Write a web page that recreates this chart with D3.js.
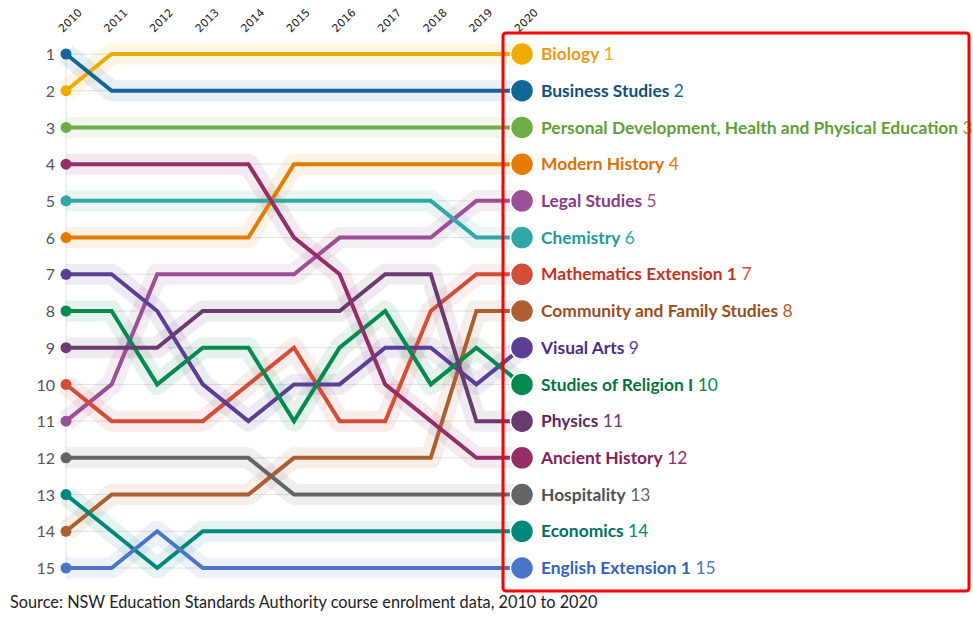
<!DOCTYPE html>
<html><head><meta charset="utf-8">
<script src="https://cdn.jsdelivr.net/npm/d3@7"></script>
<style>
body{margin:0;background:#fff;}
svg{display:block;font-family:"Source Sans Pro",Lato,"Noto Sans",sans-serif;}
</style></head>
<body><svg id="chart" width="973" height="618"></svg>
<script>
const years = [2010,2011,2012,2013,2014,2015,2016,2017,2018,2019,2020];
const subjects = ["Biology","Business Studies","Personal Development, Health and Physical Education","Modern History","Legal Studies","Chemistry","Mathematics Extension 1","Community and Family Studies","Visual Arts","Studies of Religion I","Physics","Ancient History","Hospitality","Economics","English Extension 1"];
const colors = ["#f0ab00","#13669a","#71ad46","#e37c00","#9b4f96","#33a6a6","#d24e3a","#ae5f2f","#5b3f95","#078a4f","#6a3b6f","#942e67","#656565","#00897b","#4a76c8"];
const textColors = ["#e89a10","#0f4f7d","#5fa038","#e06f00","#8a3a86","#229a9a","#c8321e","#9a4e1e","#4a2e84","#05743f","#5a2a5e","#852058","#505050","#00705f","#3462bd"];
const ranks = [
  [2,1,1,1,1,1,1,1,1,1,1],
  [1,2,2,2,2,2,2,2,2,2,2],
  [3,3,3,3,3,3,3,3,3,3,3],
  [6,6,6,6,6,4,4,4,4,4,4],
  [11,10,7,7,7,7,6,6,6,5,5],
  [5,5,5,5,5,5,5,5,5,6,6],
  [10,11,11,11,10,9,11,11,8,7,7],
  [14,13,13,13,13,12,12,12,12,8,8],
  [7,7,8,10,11,10,10,9,9,10,9],
  [8,8,10,9,9,11,9,8,10,9,10],
  [9,9,9,8,8,8,8,7,7,11,11],
  [4,4,4,4,4,6,7,10,11,12,12],
  [12,12,12,12,12,13,13,13,13,13,13],
  [13,14,15,14,14,14,14,14,14,14,14],
  [15,15,14,15,15,15,15,15,15,15,15]
];
const rankTicks = d3.range(1,16);
const sourceText = "Source: NSW Education Standards Authority course enrolment data, 2010 to 2020";

const svg = d3.select("#chart");
const x = d3.scaleLinear().domain([2010,2020]).range([66,522]);
const y = d3.scaleLinear().domain([1,15]).range([54,568]);

// grid
svg.append("g").selectAll("line").data(rankTicks).join("line")
  .attr("x1",x(2010)).attr("x2",x(2020)).attr("y1",d=>y(d)).attr("y2",d=>y(d))
  .attr("stroke","#e2e2e2").attr("stroke-width",1);
svg.append("line").attr("x1",x(2010)).attr("x2",x(2010)).attr("y1",y(1)).attr("y2",y(15))
  .attr("stroke","#e2e2e2");

// rank axis
const yAxis = d3.axisLeft(y).tickValues(rankTicks).tickSize(0).tickPadding(0).tickFormat(d3.format("d"));
const gy = svg.append("g").attr("transform","translate(55,0)").call(yAxis);
gy.select(".domain").remove();
gy.selectAll("text").attr("font-size",16).attr("fill","#555").attr("dy","0.35em")
  .style("font-family",'"Source Sans Pro",Lato,"Noto Sans",sans-serif');

// year axis
const gx = svg.append("g");
gx.selectAll("text").data(years).join("text")
  .attr("transform",d=>`translate(${x(d)-3},33) rotate(-45)`)
  .attr("font-size",11).attr("fill","#222").attr("font-family","'DejaVu Sans',sans-serif")
  .text(d=>d);

const data = subjects.map((s,i)=>({name:s,color:colors[i],tcolor:textColors[i],values:ranks[i].map((r,j)=>({year:years[j],rank:r}))}));
const line = d3.line().x(d=>x(d.year)).y(d=>y(d.rank));

// halos
svg.append("g").selectAll("path").data(data).join("path")
  .attr("d",d=>line(d.values)).attr("fill","none").attr("stroke",d=>d.color)
  .attr("stroke-opacity",0.1).attr("stroke-width",21).attr("stroke-linejoin","round");
// lines
svg.append("g").selectAll("path").data(data).join("path")
  .attr("d",d=>line(d.values)).attr("fill","none").attr("stroke",d=>d.color)
  .attr("stroke-width",4).attr("stroke-linejoin","miter");
// start dots
svg.append("g").selectAll("circle").data(data).join("circle")
  .attr("cx",d=>x(d.values[0].year)).attr("cy",d=>y(d.values[0].rank)).attr("r",5.5).attr("fill",d=>d.color);
// end dots
const last = years.length-1;
svg.append("g").selectAll("circle").data(data).join("circle")
  .attr("cx",d=>x(d.values[last].year)).attr("cy",d=>y(d.values[last].rank)).attr("r",11.5)
  .attr("fill",d=>d.color).attr("stroke","#fff").attr("stroke-width",1.5);
// labels
const lab = svg.append("g").selectAll("text").data(data).join("text")
  .attr("x",x(2020)+19).attr("y",d=>y(d.values[last].rank)).attr("dy","0.35em")
  .attr("font-size",17.4).attr("fill",d=>d.tcolor);
lab.append("tspan").attr("font-weight","bold").text(d=>d.name);
lab.append("tspan").attr("font-weight","normal").attr("fill",d=>d.color).text(d=>" "+d.values[last].rank);

// source
svg.append("text").attr("x",10).attr("y",608).attr("font-size",16.3).attr("fill","#222").text(sourceText);

// red highlight box
svg.append("rect").attr("x",503).attr("y",33).attr("width",466).attr("height",558).attr("rx",3)
  .attr("fill","none").attr("stroke","#ff0000").attr("stroke-width",3);
</script></body></html>
